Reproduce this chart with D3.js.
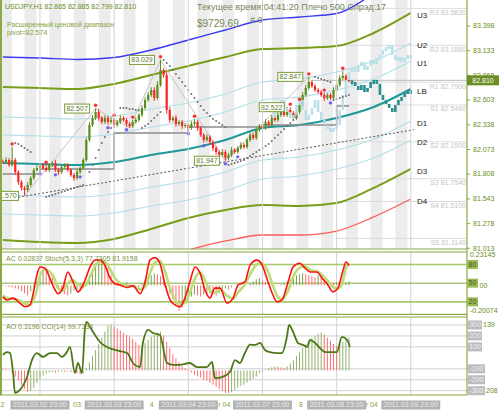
<!DOCTYPE html>
<html>
<head>
<meta charset="utf-8">
<script src="https://cdn.jsdelivr.net/npm/d3@7"></script>
<style>
  body { margin: 0; background: #fff; }
  svg { display: block; font-family: "Liberation Sans", Arial, sans-serif; }
</style>
</head>
<body>
<div id="chart"></div>
<script>

// ---------- DATA ----------

// hourly closes, bar 0 .. 112 (open = previous close)
var firstOpen = 81.940;
var closes = [81.934,81.955,81.902,81.955,81.826,81.719,81.655,81.633,81.687,81.762,
81.848,81.869,81.902,81.869,81.848,81.902,81.923,81.848,81.826,81.880,
81.902,81.848,81.794,81.762,81.826,81.869,81.955,82.170,82.331,82.406,
82.470,82.406,82.363,82.406,82.363,82.384,82.331,82.363,82.406,82.384,
82.342,82.320,82.363,82.384,82.438,82.513,82.599,82.653,82.706,82.620,
82.760,82.921,82.867,82.492,82.384,82.406,82.342,82.363,82.320,82.331,
82.299,82.342,82.363,82.299,82.223,82.170,82.202,82.148,82.084,82.041,
82.009,82.041,81.977,82.009,82.063,82.041,82.084,82.116,82.095,82.170,
82.223,82.191,82.277,82.320,82.299,82.363,82.331,82.406,82.384,82.438,
82.470,82.438,82.492,82.459,82.406,82.470,82.545,82.653,82.728,82.792,
82.749,82.706,82.685,82.653,82.620,82.653,82.620,82.706,82.760,82.835,
82.857,82.814,82.810];

// wick lengths in pips above the body / below the body
var hiWick = [2,3,2,14,2,2,2,2,3,2,
2,3,2,2,3,2,2,3,2,2,
2,2,2,2,3,2,2,3,3,3,
4,3,2,3,2,3,2,2,3,2,
2,2,2,3,2,3,3,3,3,3,
4,11,2,3,3,2,3,2,2,2,
2,3,3,2,2,2,3,2,2,2,
2,3,2,2,3,2,2,3,2,2,
3,2,3,2,2,3,2,3,2,3,
3,2,3,3,2,3,3,3,3,5.5,
2,2,2,2,2,2,2,3,3,3,
5,2,2];
var loWick = [2,2,2,2,3,3,3,6,2,2,
2,2,3,2,2,2,2,2,3,2,
2,2,2,3,2,2,2,2,2,2,
2,3,2,2,3,2,3,2,2,2,
3,2,2,2,2,2,2,2,2,3,
2,2,3,4,3,2,3,2,3,2,
3,2,2,3,2,3,2,3,3,3,
3,2,3,2,2,2,2,2,2,2,
2,2,2,2,2,2,2,2,2,2,
2,2,2,2,3,2,2,2,2,2,
2,2,2,2,3,2,2,2,2,2,
2,2,2];

// projected bars: pale "analog" copy from bar 88, teal forecast from bar 113
var ghostStart = 88;
var ghostCloses = [82.492,82.545,82.599,82.513,82.470,
82.406,82.438,82.545,82.599,82.492,82.384,
82.438,82.513,82.599,82.470,82.384,82.331,
82.299,82.256,82.299,82.331,
82.492,82.653,82.814,82.899,
82.942,82.899,82.975,83.007,82.921,82.964,
83.028,82.985,83.050,83.082,83.135,83.168,
83.189,83.082,83.028,83.060,83.007,83.050,83.082,83.060];
var tealStart = 113;
var tealCloses = [82.792,82.749,82.706,82.760,82.685,82.728,82.792,82.814,82.771,82.653,
82.599,82.556,82.513,82.470,82.545,82.599,82.631,82.674,82.706,82.706];

// parabolic SAR, one per bar (null = none)
var sar = [null,null,null,null,
82.138,82.127,82.105,82.084,82.062,82.041,
null,null,null,null,
81.558,81.569,81.580,81.590,81.601,81.612,81.623,81.633,81.644,81.655,81.665,81.676,81.687,
null,
81.826,81.902,81.977,82.062,82.138,82.202,82.256,82.299,
null,null,
82.513,82.513,82.513,82.502,82.502,82.492,82.492,
82.299,82.320,82.342,82.374,82.406,82.438,82.470,
83.028,82.996,82.964,82.921,82.878,82.835,82.792,82.749,82.706,82.663,82.620,82.577,82.535,82.492,82.459,82.427,82.395,82.374,82.352,82.331,82.309,
81.902,81.912,81.923,81.934,81.944,81.955,81.977,81.998,82.020,82.041,82.062,82.084,82.105,82.127,82.159,82.191,82.223,82.256,82.288,82.320,82.352,82.384,82.406,
null,null,null,null,null,
82.846,82.835,82.824,82.814,82.803,82.792,
82.599,82.610,82.620,82.631,82.642,82.653];

var upFractalBars = [3, 14, 30, 36, 42, 51, 62, 93, 96, 99, 104, 110];
var downFractalBars = [12, 17, 25, 34, 40, 60, 65, 72, 76, 106];

// labelled extremes
var extremeBars = [7, 30, 51, 72, 93, 99];
var extremeText = ["81.570", "82.507", "83.029", "81.947", "82.522", "82.847"];

// zigzag, trend line, prior-range step line
var zigBars = [7, 30, 41, 51, 72, 99];
var zigPrices = [81.570, 82.507, 82.300, 83.029, 81.947, 82.847];
var trendBars = [5, 133];
var trendPrices = [81.555, 82.280];
var stepBars = [0, 12, 36, 60, 84, 108, 112];
var stepLevels = [81.805, 81.859, 82.245, 82.309, 82.331, 82.535, 82.535];

// range bands, sampled every 12 bars
var bandBars = [0, 12, 24, 36, 48, 60, 72, 84, 96, 108, 120, 132];
var bandBlue = [83.060, 83.050, 83.034, 83.055, 83.135, 83.243, 83.350, 83.457, 83.490, 83.527, 83.736, 83.940];
var bandU3 = [82.739, 82.728, 82.717, 82.771, 82.867, 82.964, 83.060, 83.146, 83.157, 83.178, 83.318, 83.533];
var bandU2 = [82.417, 82.406, 82.395, 82.427, 82.502, 82.567, 82.663, 82.792, 82.824, 82.899, 83.017, 83.211];
var bandU1 = [82.223, 82.213, 82.202, 82.234, 82.309, 82.374, 82.470, 82.599, 82.631, 82.706, 82.824, 83.017];
var bandLB = [81.923, 81.912, 81.902, 81.934, 82.009, 82.073, 82.170, 82.299, 82.331, 82.406, 82.524, 82.717];
var bandD1 = [81.580, 81.569, 81.558, 81.590, 81.665, 81.730, 81.826, 81.955, 81.987, 82.062, 82.181, 82.374];
var bandD2 = [81.376, 81.365, 81.354, 81.387, 81.462, 81.526, 81.623, 81.751, 81.784, 81.859, 81.977, 82.170];
var bandD3 = [81.097, 81.075, 81.065, 81.108, 81.215, 81.333, 81.419, 81.472, 81.462, 81.494, 81.655, 81.859];
var bandD4 = [80.721, 80.700, 80.689, 80.732, 80.861, 80.989, 81.086, 81.150, 81.150, 81.193, 81.344, 81.537];

var pivotNames = ["R3", "R2", "R1", "S1", "S2", "S3", "S4", "S5"];
var pivotValues = [83.582, 83.186, 82.790, 82.546, 82.150, 81.754, 81.510, 81.114];

var priceTicks = [83.398, 83.133, 82.868, 82.603, 82.338, 82.073, 81.808, 81.543, 81.278, 81.013];
var bidPrice = 82.810;

// AC histogram, one per bar
var acValues = [-0.004,-0.007,-0.011,-0.014,-0.021,-0.028,-0.042,-0.056,-0.070,-0.042,
-0.014,0.028,0.070,0.112,0.098,0.070,0.056,0.028,-0.014,-0.042,
-0.063,-0.070,-0.056,-0.035,-0.028,-0.042,-0.021,0.028,0.070,0.105,
0.140,0.168,0.182,0.175,0.126,0.070,0.028,0.014,0.007,0.014,
0.021,0.007,-0.007,-0.021,-0.014,0.014,0.035,0.056,0.070,0.084,
0.077,0.063,0.028,-0.014,-0.056,-0.098,-0.140,-0.175,-0.154,-0.126,
-0.098,-0.077,-0.063,-0.070,-0.077,-0.063,-0.070,-0.056,-0.063,-0.070,
-0.056,-0.035,-0.021,-0.028,-0.014,0.000,0.007,0.014,0.007,0.000,
0.014,0.028,0.042,0.049,0.035,0.021,0.007,0.007,0.004,0.004,
0.007,0.014,0.028,0.042,0.056,0.070,0.077,0.084,0.077,0.070,
0.063,0.056,0.070,0.063,0.049,0.035,0.021,0.014,0.021,0.014,
0.014,0.021,0.028];

// stochastic (5,3,3), sampled
var stochBars = [0,1.3,3.3,5.5,7.2,8.8,9.7,11,12,13.6, 15.2,16.9,17.8,19.4,21,22.7,24.3,26.6,28.2,29.8,
31.4,33,34.7,36.3,37.9,40.2,42.1,44.4,46,47.6, 49.2,50.8,52.5,54.1,55.7,57.3,58.9,60.5,62.2,63.8,
65.4,67,68.6,70.3,72.5,74.5,76.1,78.3,80,82.2, 83.9,85.8,87.4,88.7,90.3,92.3,93.9,96.1,97.8,99.4,
101.6,103.3,105.2,106.8,108.4,110.1,111,112];
var stochMain = [28,23,26,18,12,15,31,63,76,74, 58,39,33,42,68,52,36,55,76,87,
87,79,58,49,47,43,46,33,52,87, 91,82,47,23,15,12,26,52,76,66,
39,26,42,42,18,26,47,52,79,87, 79,52,31,20,23,52,76,82,74,68,
68,58,47,36,42,71,84,78];
var stochSignal = [30,26,25,22,17,15,21,40,62,72, 68,55,42,38,50,55,48,46,60,77,
85,84,72,58,50,46,45,40,44,66, 83,86,68,42,24,16,18,35,58,67,
55,38,35,40,30,25,35,48,64,80, 82,68,46,30,24,38,60,75,77,71,
69,63,53,44,41,55,74,82];

// Awesome oscillator, one per bar
var aoValues = [0.01,0.01,0.005,-0.02,-0.06,-0.10,-0.14,-0.18,-0.21,-0.20,
-0.17,-0.12,-0.08,-0.05,-0.03,-0.02,-0.015,-0.02,-0.015,-0.01,
-0.015,-0.01,-0.015,-0.02,-0.03,-0.04,-0.03,0.02,0.08,0.14,
0.20,0.26,0.32,0.38,0.44,0.45,0.43,0.41,0.39,0.37,
0.35,0.33,0.31,0.28,0.25,0.24,0.27,0.30,0.33,0.35,
0.37,0.38,0.34,0.28,0.22,0.16,0.12,0.08,0.04,0.02,
0.01,-0.02,-0.04,-0.06,-0.07,-0.09,-0.10,-0.12,-0.14,-0.16,
-0.18,-0.20,-0.22,-0.22,-0.21,-0.19,-0.17,-0.15,-0.14,-0.12,
-0.10,-0.08,-0.06,-0.03,-0.01,0.01,0.02,0.03,0.04,0.035,
0.03,0.025,0.04,0.07,0.10,0.14,0.18,0.22,0.26,0.29,
0.32,0.34,0.36,0.37,0.35,0.32,0.29,0.26,0.24,0.26,
0.28,0.30,0.32];

// CCI(14), sampled
var cciBars = [0,1.3,2.3,3.3,3.9,5.5,7.8,9.4,11,13, 15.2,17.5,19.1,20.7,21.7,23.3,24.3,25.6,26.6,27.2,
28.2,29.8,31.4,33.7,36.3,40.2,42.1,44.4,45.3,47, 48.6,50.8,53.1,55.1,57.3,60.5,62.8,66,67.7,68.6,
70.9,73.5,75.1,76.7,78.3,80,81.6,83.2,84.8,86.4, 88.7,90.3,91.9,92.6,93.9,95.5,97.1,98.4,99.4,101,
102.6,104.2,106.5,108.1,109.7,111.4,112.3];
var cciValues = [26,53,44,-138,-321,-293,-175,-20,44,8, 44,44,8,53,99,-138,-47,-138,282,328,
282,209,145,99,72,44,-47,-84,136,255, 227,209,-47,-65,-65,-47,-84,-84,-38,-184,
-175,-129,-20,-47,44,120,118,136,72,53, 44,44,191,300,237,136,118,99,163,136,
90,53,53,53,191,163,100];

var gridBars = [12, 36, 60, 84, 108, 132];
var timeLabels = ["2011.03.02 23:00", "2011.03.03 23:00", "2011.03.04 23:00",
                  "2011.03.07 23:00", "2011.03.08 23:00", "2011.03.09 23:00"];
var underBars = [-0.8, 22.7, 47.5, 69.7, 95.8, 117.4];
var underText = ["2", "03:", "4", "r 04", "8", "r 04"];

var stochLevels = [80, 50, 20];
var cciLevels = [300, 200, 100, -100, -200, -300];

// ---------- LAYOUT ----------
var plotL = 2, plotR = 467;
var mainTop = 0, mainBot = 249;
var p2Top = 252, p2Bot = 314.3;
var p3Top = 317, p3Bot = 395;

var olive = "#6b8e23", frame = "#8aaa45";

var x = d3.scaleLinear().domain([0, 132]).range([2.9, 410.8]);
var y = d3.scaleLinear().domain([81.0, 83.672]).range([mainBot, mainTop]);
var yStoch = d3.scaleLinear().domain([0, 100]).range([p2Bot, p2Top]);
var yAC = d3.scaleLinear().domain([-0.20074, 0.23145]).range([p2Bot, p2Top]);
var yAO = d3.scaleLinear().domain([-0.2208, 0.5139]).range([393, 318]);
var yCCI = d3.scaleLinear().domain([-300, 300]).range([390.7, 325]);

var svg = d3.select("#chart").append("svg").attr("width", 500).attr("height", 413);
svg.append("rect").attr("width", 500).attr("height", 413).attr("fill", "#fff");

var defs = svg.append("defs");
function addClip(id, y0, y1) {
    defs.append("clipPath").attr("id", id).append("rect")
        .attr("x", plotL).attr("y", y0).attr("width", plotR - plotL).attr("height", y1 - y0);
}
addClip("clipMain", mainTop, mainBot);
addClip("clipP2", p2Top, p2Bot);
addClip("clipP3", p3Top, p3Bot);

function txt(g, tx, ty, s, size, color, anchor) {
    return g.append("text").attr("x", tx).attr("y", ty).text(s)
        .attr("font-size", size).attr("fill", color)
        .attr("dominant-baseline", "middle")
        .attr("text-anchor", anchor || "start");
}

// ---------- MAIN PANEL ----------
var main = svg.append("g").attr("clip-path", "url(#clipMain)");

// session stripes
main.selectAll(".stripe").data(d3.range(-1, 132, 8)).enter().append("rect")
    .attr("x", function (d) { return x(d); }).attr("y", mainTop)
    .attr("width", 12).attr("height", mainBot - mainTop).attr("fill", "#ececec");

// vertical grid in every panel
[[mainTop, mainBot], [p2Top, p2Bot], [p3Top, p3Bot]].forEach(function (r) {
    svg.selectAll(null).data(gridBars).enter().append("line")
        .attr("x1", function (d) { return x(d); }).attr("x2", function (d) { return x(d); })
        .attr("y1", r[0]).attr("y2", r[1]).attr("stroke", "#d2d2d2").attr("stroke-width", 1);
});

// pivot levels
main.selectAll(".pivot").data(pivotValues).enter().append("line")
    .attr("x1", x(108)).attr("x2", plotR)
    .attr("y1", function (d) { return y(d); }).attr("y2", function (d) { return y(d); })
    .attr("stroke", "#dcdcdc");

// bid line
main.append("line").attr("x1", x(100)).attr("x2", plotR)
    .attr("y1", y(bidPrice)).attr("y2", y(bidPrice)).attr("stroke", "#bdbdbd");

// bands
var bandLine = d3.line()
    .x(function (d, i) { return x(bandBars[i]); })
    .y(function (d) { return y(d); })
    .curve(d3.curveMonotoneX);

var bands = [
    {v: bandBlue, c: "#3a3af0", w: 1.4, name: null},
    {v: bandU2, c: "#b2dfe9", w: 1.1, name: "U2"},
    {v: bandU1, c: "#b2dfe9", w: 1.1, name: "U1"},
    {v: bandD1, c: "#b2dfe9", w: 1.1, name: "D1"},
    {v: bandD2, c: "#b2dfe9", w: 1.1, name: "D2"},
    {v: bandU3, c: "#789d1b", w: 2, name: "U3"},
    {v: bandD3, c: "#789d1b", w: 2, name: "D3"},
    {v: bandD4, c: "#ff5a5a", w: 1.3, name: "D4"},
    {v: bandLB, c: "#1f9898", w: 2, name: "LB"}
];
bands.forEach(function (b) {
    main.append("path").attr("d", bandLine(b.v)).attr("fill", "none")
        .attr("stroke", b.c).attr("stroke-width", b.w);
});

// zigzag
main.append("path")
    .attr("d", d3.line().x(function (d) { return x(d); })
        .y(function (d, i) { return y(zigPrices[i]); })(zigBars))
    .attr("fill", "none").attr("stroke", "#c4c4c4").attr("stroke-width", 1);

// trend line
main.append("path")
    .attr("d", d3.line().x(function (d) { return x(d); })
        .y(function (d, i) { return y(trendPrices[i]); })(trendBars))
    .attr("fill", "none").attr("stroke", "#555").attr("stroke-width", 1)
    .attr("stroke-dasharray", "2,2");

// step line
main.append("path")
    .attr("d", d3.line().x(function (d) { return x(d); })
        .y(function (d, i) { return y(stepLevels[i]); }).curve(d3.curveStepAfter)(stepBars))
    .attr("fill", "none").attr("stroke", "#8c8c8c").attr("stroke-width", 1.6);

// candles
var candles = closes.map(function (c, i) {
    var o = i ? closes[i - 1] : firstOpen;
    return {i: i, o: o, c: c,
        h: Math.max(o, c) + hiWick[i] / 100,
        l: Math.min(o, c) - loWick[i] / 100};
});

function drawBars(g, data, upCol, downCol, bw, minH, op) {
    var gb = g.append("g").attr("opacity", op);
    data.forEach(function (d) {
        var col = d.c >= d.o ? upCol : downCol;
        if (d.h !== undefined) {
            gb.append("line").attr("x1", x(d.i)).attr("x2", x(d.i))
                .attr("y1", y(d.h)).attr("y2", y(d.l)).attr("stroke", col).attr("stroke-width", 1);
        }
        var top = Math.min(y(d.o), y(d.c));
        var hgt = Math.max(minH, Math.abs(y(d.o) - y(d.c)));
        gb.append("rect").attr("x", x(d.i) - bw / 2).attr("y", top)
            .attr("width", bw).attr("height", hgt).attr("fill", col);
    });
}

drawBars(main, candles, "#5a8d19", "#ff2424", 2.2, 1, 1);

var ghost = ghostCloses.map(function (c, k) {
    var i = ghostStart + k;
    return {i: i, o: k ? ghostCloses[k - 1] : closes[i - 1], c: c};
});
drawBars(main, ghost, "#b5dfe7", "#b5dfe7", 2.6, 4, 0.9);

var teal = tealCloses.map(function (c, k) {
    return {i: tealStart + k, o: k ? tealCloses[k - 1] : closes[closes.length - 1], c: c};
});
drawBars(main, teal, "#2a8f8f", "#2a8f8f", 2.6, 4, 1);

// SAR dots
main.selectAll(".sar").data(sar.map(function (v, i) { return {i: i, v: v}; })
        .filter(function (d) { return d.v !== null; }))
    .enter().append("circle")
    .attr("cx", function (d) { return x(d.i); }).attr("cy", function (d) { return y(d.v); })
    .attr("r", 1).attr("fill", "#707070");

// fractals
main.selectAll(".fup").data(upFractalBars).enter().append("circle")
    .attr("cx", function (d) { return x(d); })
    .attr("cy", function (d) { return y(candles[d].h) - 3; })
    .attr("r", 1.7).attr("fill", "#ff2a2a");
main.selectAll(".fdn").data(downFractalBars).enter().append("circle")
    .attr("cx", function (d) { return x(d); })
    .attr("cy", function (d) { return y(candles[d].l) + 3; })
    .attr("r", 1.7).attr("fill", "#7a5cf0");

// extreme price labels
extremeBars.forEach(function (b, k) {
    var py = y(+extremeText[k]);
    var bx = x(b) - 31;
    main.append("rect").attr("x", bx).attr("y", py - 4.5).attr("width", 25).attr("height", 9)
        .attr("fill", "#fff").attr("stroke", "#7b9b38").attr("stroke-width", 1);
    txt(main, bx + 12.5, py + 0.5, extremeText[k], 7, "#5c7d1e", "middle");
});

// band names
bands.forEach(function (b) {
    if (!b.name) return;
    txt(main, 417, y(b.v[b.v.length - 1]) + 3, b.name, 8, "#222");
});

// pivot labels
pivotNames.forEach(function (n, k) {
    txt(main, 466, y(pivotValues[k]) + 4.5, n + " " + pivotValues[k].toFixed(4), 7, "#c6c6c6", "end");
});

// header texts
txt(svg, 5, 7, "USDJPY,H1  82.865 82.885 82.799 82.810", 7, olive);
txt(svg, 7, 25, "Расширенный ценовой диапазон", 7, "#86a33c");
txt(svg, 7, 33.5, " pivot=82.574", 7, "#86a33c");
txt(svg, 197, 7.5, "Текущее время:04:41:20 Плечо 500 Спрэд:17", 9, "#768659");
txt(svg, 197, 24, "$9729.69", 10, "#768659");
txt(svg, 250, 20.5, "# 0", 9, "#768659");

// ---------- PANEL 2: AC + Stochastic ----------
var p2 = svg.append("g").attr("clip-path", "url(#clipP2)");

stochLevels.forEach(function (lv) {
    p2.append("line").attr("x1", plotL).attr("x2", plotR)
        .attr("y1", yStoch(lv)).attr("y2", yStoch(lv))
        .attr("stroke", lv === 50 ? "#86a845" : "#a9c86a").attr("stroke-width", lv === 50 ? 1 : 1.6);
});

p2.selectAll(".ac").data(acValues).enter().append("line")
    .attr("x1", function (d, i) { return x(i); }).attr("x2", function (d, i) { return x(i); })
    .attr("y1", yAC(0)).attr("y2", function (d) { return yAC(d); })
    .attr("stroke", function (d, i) { return i && d > acValues[i - 1] ? "#7fa152" : "#ff6a6a"; })
    .attr("stroke-width", 1);

var stochLine = d3.line().x(function (d) { return x(d); }).curve(d3.curveMonotoneX);
p2.append("path").attr("d", stochLine.y(function (d, i) { return yStoch(stochSignal[i]); })(stochBars))
    .attr("fill", "none").attr("stroke", "#bcdc78").attr("stroke-width", 2.6);
p2.append("path").attr("d", stochLine.y(function (d, i) { return yStoch(stochMain[i]); })(stochBars))
    .attr("fill", "none").attr("stroke", "#ff1010").attr("stroke-width", 1.6);

txt(svg, 6, 259, "AC 0.02837   Stoch(5,3,3) 77.7305 81.9158", 7, "#7b9440");

// ---------- PANEL 3: AO + CCI ----------
var p3 = svg.append("g").attr("clip-path", "url(#clipP3)");

cciLevels.forEach(function (lv) {
    p3.append("line").attr("x1", plotL).attr("x2", plotR)
        .attr("y1", yCCI(lv)).attr("y2", yCCI(lv)).attr("stroke", "#cfcfcf");
});

p3.selectAll(".ao").data(aoValues).enter().append("line")
    .attr("x1", function (d, i) { return x(i); }).attr("x2", function (d, i) { return x(i); })
    .attr("y1", yAO(0)).attr("y2", function (d) { return yAO(d); })
    .attr("stroke", function (d, i) { return i && d > aoValues[i - 1] ? "#93b169" : "#ff6e6e"; })
    .attr("stroke-width", 1);

p3.append("path")
    .attr("d", d3.line().x(function (d) { return x(d); })
        .y(function (d, i) { return yCCI(cciValues[i]); }).curve(d3.curveMonotoneX)(cciBars))
    .attr("fill", "none").attr("stroke", "#4e7818").attr("stroke-width", 1.8);

txt(svg, 6, 327, "AO 0.3196   CCI(14) 99.7334", 7, "#7b9440");

// ---------- FRAMES ----------
svg.append("rect").attr("x", 0).attr("y", 0).attr("width", 2).attr("height", p3Bot).attr("fill", frame);
svg.append("line").attr("x1", plotR).attr("x2", plotR).attr("y1", 0).attr("y2", p3Bot)
    .attr("stroke", frame).attr("stroke-width", 1.2);
[mainBot, p2Top, p2Bot, p3Top, p3Bot].forEach(function (ly) {
    svg.append("line").attr("x1", 0).attr("x2", plotR).attr("y1", ly).attr("y2", ly)
        .attr("stroke", frame).attr("stroke-width", 1.2);
});

// ---------- RIGHT SCALES ----------
var axisG = svg.append("g").attr("transform", "translate(" + plotR + ",0)")
    .call(d3.axisRight(y).tickValues(priceTicks).tickSize(3).tickPadding(3)
        .tickFormat(d3.format(".3f")));
axisG.select(".domain").remove();
axisG.attr("font-family", null).attr("font-size", 7);
axisG.selectAll("line").attr("stroke", frame);
axisG.selectAll("text").attr("fill", olive);

// current price box
svg.append("rect").attr("x", plotR).attr("y", y(bidPrice) - 5).attr("width", 32).attr("height", 10)
    .attr("fill", "#6b8e23");
txt(svg, plotR + 16, y(bidPrice) + 0.5, bidPrice.toFixed(3), 7, "#fff", "middle");

// AC / Stoch scale
txt(svg, 470, yAC(0.23145) + 3, "0.23145", 7, olive);
txt(svg, 470, yAC(-0.20074) - 3.5, "-0.20074", 7, olive);
txt(svg, 479.5, yAC(0) + 0.5, "00", 7, olive);
stochLevels.forEach(function (lv) {
    svg.append("rect").attr("x", plotR).attr("y", yStoch(lv) - 4.5).attr("width", 11).attr("height", 9)
        .attr("fill", "#9cba57");
    txt(svg, plotR + 5.5, yStoch(lv) + 0.5, String(lv), 7, "#3e5d0e", "middle");
});

// AO / CCI scale (AO max/min partly hidden behind the CCI boxes)
txt(svg, 483, yCCI(300) + 0.5, "139", 7, olive);
txt(svg, 486, yCCI(-300) + 0.5, "208", 7, olive);
cciLevels.forEach(function (lv) {
    var s = String(lv);
    var bw = s.length > 3 ? 17 : 14;
    svg.append("rect").attr("x", plotR + 1).attr("y", yCCI(lv) - 4.5).attr("width", bw).attr("height", 9)
        .attr("fill", "#bcbcbc");
    txt(svg, plotR + 1 + bw / 2, yCCI(lv) + 0.5, s, 7, "#f2f2f2", "middle");
});

// ---------- TIME AXIS ----------
underBars.forEach(function (b, k) {
    txt(svg, x(b), 405, underText[k], 7, "#86a33c");
});
gridBars.forEach(function (b, k) {
    svg.append("rect").attr("x", x(b) - 29.5).attr("y", 400.5).attr("width", 59).attr("height", 9)
        .attr("fill", "#b3b3b3");
    txt(svg, x(b), 405.2, timeLabels[k], 7, "#ececec", "middle");
});

</script>
</body>
</html>
